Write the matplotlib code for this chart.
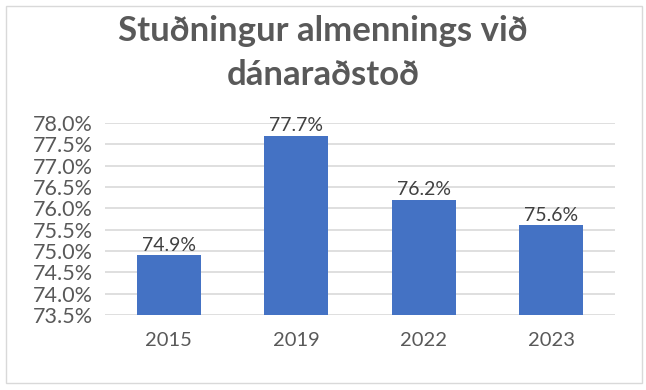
import matplotlib.pyplot as plt
from matplotlib.patches import Rectangle
from matplotlib.ticker import FuncFormatter, MultipleLocator

years = ["2015", "2019", "2022", "2023"]
support = [74.9, 77.7, 76.2, 75.6]

plt.rcParams['font.family'] = ['Lato', 'DejaVu Sans']
grey = "#595959"

fig = plt.figure(figsize=(6.46, 3.90), dpi=100)
ax = fig.add_axes([105 / 646, 1 - 315 / 390, (615 - 105) / 646, (315 - 123) / 390])

bars = ax.bar(years, support, width=0.5, color="#4472C4", zorder=3)
ax.set_ylim(73.5, 78.0)
ax.set_xlim(-0.5, 3.5)
ax.yaxis.set_major_locator(MultipleLocator(0.5))
ax.yaxis.set_major_formatter(FuncFormatter(lambda v, p: f"{v:.1f}%"))
ax.grid(axis="y", color="#D9D9D9", linewidth=1.2, zorder=0)
for s in ax.spines.values():
    s.set_visible(False)
ax.tick_params(axis="both", length=0, colors=grey)
ax.tick_params(axis="y", labelsize=15.5, pad=9)
ax.tick_params(axis="x", labelsize=14.5, pad=12)

for b, v in zip(bars, support):
    ax.text(b.get_x() + b.get_width() / 2, v + 0.04, f"{v:.1f}%",
            ha="center", va="bottom", fontsize=14, color="#404040")

fig.text(0.5, 1 - 31 / 390, "Stuðningur almennings við", ha="center", va="center",
         fontsize=25, fontweight="bold", color=grey)
fig.text(0.5, 1 - 75 / 390, "dánaraðstoð", ha="center", va="center",
         fontsize=25, fontweight="bold", color=grey)

fig.patches.append(Rectangle((6 / 646, 7 / 390), 636 / 646, 377 / 390,
                             transform=fig.transFigure, fill=False,
                             edgecolor="#D9D9D9", linewidth=1))

fig.savefig("out.png", dpi=100)
